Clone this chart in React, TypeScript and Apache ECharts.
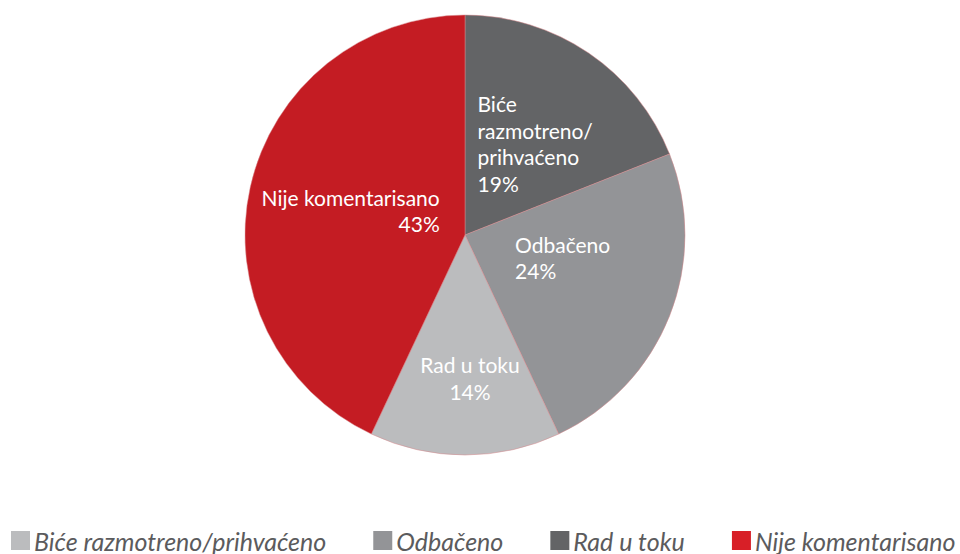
import React, { useEffect, useRef } from "react";
import * as echarts from "echarts";

const categories = ["Biće razmotreno/prihvaćeno", "Odbačeno", "Rad u toku", "Nije komentarisano"];
const sliceLabels = ["Biće\nrazmotreno/\nprihvaćeno", "Odbačeno", "Rad u toku", "Nije komentarisano"];
const values = [19, 24, 14, 43];
const sliceColors = ["#636466", "#939497", "#bbbcbe", "#c41c23"];
const legendColors = ["#bbbcbe", "#939497", "#636466", "#d81f27"];
// label placement tweaks (dx, dy, align) per slice
const labelDx = [-51, -55, 5, 85];
const labelDy = [2, -19, 30, 0];
const labelAlign = ["left", "left", "center", "right"];

export default function App() {
  const ref = useRef<HTMLDivElement>(null);
  useEffect(() => {
    if (!ref.current) return;
    const chart = echarts.init(ref.current, undefined, { renderer: "svg" });
    chart.setOption({
      animation: false,
      backgroundColor: "#ffffff",
      legend: {
        left: 11,
        top: 528,
        padding: 0,
        itemWidth: 19,
        itemHeight: 19,
        itemGap: 47,
        icon: "rect",
        itemStyle: { borderWidth: 0 },
        textStyle: {
          fontFamily: "Lato",
          fontStyle: "italic",
          fontSize: 25,
          lineHeight: 24,
          color: "#5b5b5d",
          padding: [0, 0, 0, -1],
        },
        data: categories.map((c, i) => ({ name: c, itemStyle: { color: legendColors[i] } })),
      },
      series: [
        {
          type: "pie",
          center: [465, 235],
          radius: 220,
          startAngle: 90,
          clockwise: true,
          label: {
            show: true,
            position: "inside",
            color: "#ffffff",
            fontFamily: "Lato",
            fontSize: 21,
            lineHeight: 26.5,
            formatter: (p: any) => `${sliceLabels[p.dataIndex]}\n${p.value}%`,
          },
          labelLayout: (p: any) => ({
            dx: labelDx[p.dataIndex],
            dy: labelDy[p.dataIndex],
            align: labelAlign[p.dataIndex],
          }),
          labelLine: { show: false },
          itemStyle: { borderColor: "#d7868a", borderWidth: 0.5 },
          emphasis: { disabled: true },
          data: categories.map((c, i) => ({
            name: c,
            value: values[i],
            itemStyle: { color: sliceColors[i] },
          })),
        },
      ],
    });
    return () => chart.dispose();
  }, []);
  return (
    <div
      ref={ref}
      style={{ position: "fixed", left: 0, top: 0, width: 960, height: 554 }}
    />
  );
}
